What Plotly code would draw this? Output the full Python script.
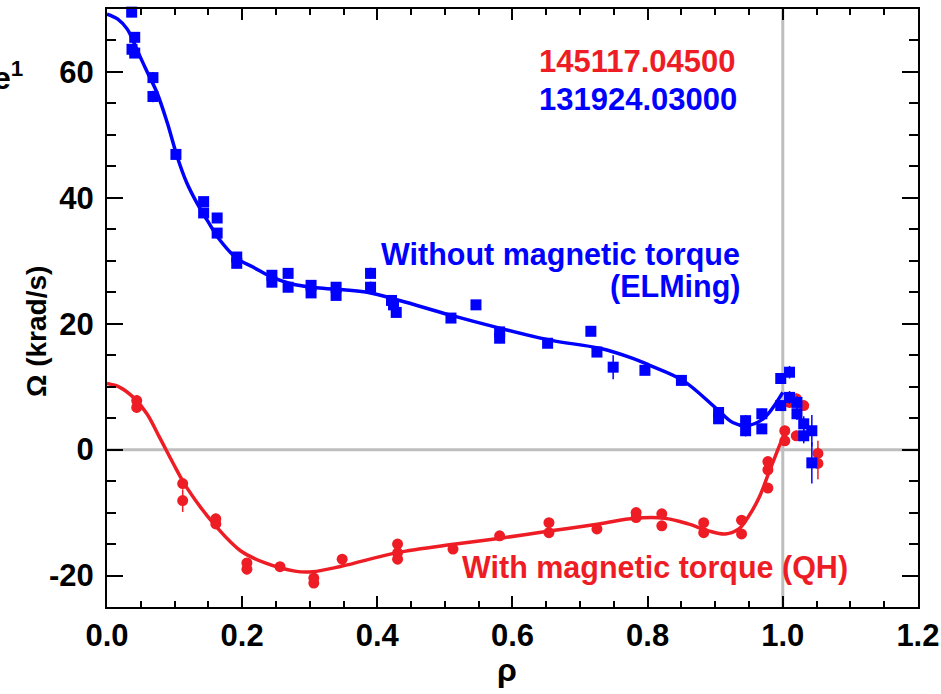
import plotly.graph_objects as go

# ---- data ----
blue_x = [0.0365, 0.041, 0.037, 0.041, 0.068, 0.068, 0.102, 0.143, 0.143, 0.163, 0.163,
          0.192, 0.192, 0.244, 0.244, 0.268, 0.268, 0.302, 0.302, 0.339, 0.339,
          0.39, 0.39, 0.421, 0.424, 0.428, 0.509, 0.546, 0.581, 0.581, 0.652,
          0.716, 0.725, 0.749, 0.796, 0.85, 0.905, 0.905, 0.945, 0.945, 0.969, 0.969,
          0.997, 0.997, 1.010, 1.010, 1.021, 1.021, 1.031, 1.031, 1.043, 1.043]
blue_y = [69.5, 65.5, 63.6, 63.0, 59.1, 56.1, 46.9, 39.4, 37.6, 36.8, 34.4,
          30.6, 29.6, 27.7, 26.6, 28.0, 25.8, 26.1, 24.9, 25.8, 24.5,
          28.0, 25.8, 23.7, 23.0, 21.8, 20.9, 23.0, 18.7, 17.7, 16.9,
          18.8, 15.5, 13.1, 12.6, 11.0, 5.9, 4.9, 4.6, 3.0, 5.7, 3.3,
          11.3, 7.0, 12.3, 8.3, 7.5, 5.7, 4.1, 2.2, 3.0, -2.1]
blue_err = [0.8, 0.8, 0.8, 0.8, 0.9, 0.9, 0.8, 0.7, 0.7, 0.8, 0.8,
            0.8, 0.8, 0.8, 0.8, 0.8, 0.8, 0.7, 0.7, 0.7, 0.7,
            0.9, 0.9, 0.8, 0.8, 0.8, 0.6, 0.6, 0.8, 0.8, 0.6,
            0.6, 0.7, 1.9, 0.7, 0.8, 0.8, 0.8, 0.9, 0.9, 0.8, 0.8,
            0.8, 0.8, 1.0, 1.0, 1.0, 1.0, 1.2, 1.2, 2.5, 3.3]

red_x = [0.044, 0.044, 0.112, 0.112, 0.161, 0.161, 0.207, 0.207, 0.256, 0.306, 0.306,
         0.348, 0.43, 0.43, 0.43, 0.512, 0.581, 0.654, 0.654, 0.725, 0.783, 0.783,
         0.821, 0.821, 0.883, 0.883, 0.939, 0.939, 0.978, 0.978, 0.978,
         1.003, 1.003, 1.010, 1.020, 1.020, 1.031, 1.052, 1.052]
red_y = [7.8, 6.7, -5.4, -8.1, -11.0, -11.8, -18.0, -19.0, -18.6, -20.4, -21.2,
         -17.4, -15.0, -16.4, -17.4, -15.8, -13.7, -11.6, -13.2, -12.6, -10.0, -10.8,
         -10.2, -12.1, -11.6, -13.2, -11.2, -13.4, -1.9, -3.2, -6.1,
         3.0, 1.4, 7.5, 8.1, 2.2, 7.0, -0.6, -2.2]
red_err = [0.8, 0.8, 0.8, 1.8, 0.8, 0.8, 0.8, 0.8, 0.6, 0.7, 0.7,
           0.6, 0.7, 0.7, 0.7, 0.6, 0.6, 0.6, 0.6, 0.6, 0.6, 0.6,
           0.6, 0.6, 0.6, 0.6, 0.6, 0.6, 0.6, 0.6, 0.6,
           0.8, 0.8, 0.8, 0.8, 0.8, 0.8, 2.0, 2.5]

blue_fit_x = [0, 0.016, 0.03, 0.044, 0.059, 0.074, 0.089, 0.104, 0.118, 0.133, 0.148, 0.167,
              0.192, 0.216, 0.244, 0.271, 0.31, 0.35, 0.385, 0.433, 0.507, 0.581, 0.655,
              0.729, 0.778, 0.803, 0.852, 0.902, 0.926, 0.946, 0.971, 1.0]
blue_fit_y = [69.2, 68.4, 66.8, 63.6, 60.1, 56.7, 52.0, 46.5, 42.4, 39.2, 36.5, 33.3,
              30.4, 29.0, 27.4, 26.4, 25.7, 25.4, 25.0, 23.7, 21.4, 19.3, 17.4,
              16.1, 14.5, 13.4, 11.0, 6.5, 4.3, 3.8, 4.9, 9.1]

red_fit_x = [0, 0.019, 0.039, 0.059, 0.078, 0.098, 0.119, 0.163, 0.198, 0.234, 0.278, 0.304,
             0.348, 0.428, 0.516, 0.587, 0.657, 0.728, 0.781, 0.825, 0.86, 0.89, 0.915,
             0.935, 0.95, 0.965, 0.98, 0.992, 1.003]
red_fit_y = [10.5, 9.9, 8.3, 5.7, 1.9, -2.2, -6.2, -12.4, -16.1, -18.0, -19.3, -19.4,
             -18.5, -16.4, -15.0, -14.0, -12.9, -11.8, -10.9, -10.9, -11.8, -12.9, -13.4,
             -12.6, -10.5, -7.6, -3.5, -0.2, 2.7]

x_ticks = [0.0, 0.2, 0.4, 0.6, 0.8, 1.0, 1.2]
y_ticks = [-20, 0, 20, 40, 60]

BLUE = "#0000ff"
RED = "#ee1d25"
FONT = "Liberation Sans, Arial, Helvetica, sans-serif"

fig = go.Figure()

fig.add_trace(go.Scatter(x=red_fit_x, y=red_fit_y, mode="lines",
                         line=dict(color=RED, width=3.5, shape="spline", smoothing=1.0),
                         hoverinfo="skip", showlegend=False))
fig.add_trace(go.Scatter(x=blue_fit_x, y=blue_fit_y, mode="lines",
                         line=dict(color=BLUE, width=3.5, shape="spline", smoothing=1.0),
                         hoverinfo="skip", showlegend=False))
fig.add_trace(go.Scatter(x=red_x, y=red_y, mode="markers",
                         marker=dict(symbol="circle", size=11, color=RED),
                         error_y=dict(type="data", array=red_err, color=RED, thickness=1.5, width=0),
                         cliponaxis=False, showlegend=False))
fig.add_trace(go.Scatter(x=blue_x, y=blue_y, mode="markers",
                         marker=dict(symbol="square", size=11, color=BLUE,
                                     line=dict(color=BLUE, width=0)),
                         error_y=dict(type="data", array=blue_err, color=BLUE, thickness=1.5, width=0),
                         cliponaxis=False, showlegend=False))

fig.add_shape(type="line", xref="paper", yref="y", x0=0, x1=1, y0=0, y1=0,
              line=dict(color="#bebebe", width=3), layer="below")
fig.add_shape(type="line", xref="x", yref="paper", x0=1.0, x1=1.0, y0=0, y1=1,
              line=dict(color="#bebebe", width=3), layer="below")

def ann(text, x, y, color, size, xanchor, xref="x", yref="y", angle=0):
    fig.add_annotation(text=text, x=x, y=y, xref=xref, yref=yref, showarrow=False,
                       xanchor=xanchor, yanchor="middle", textangle=angle,
                       font=dict(family=FONT, size=size, color=color, weight="bold"))

ann("Without magnetic torque", 0.939, 31.0, BLUE, 30.5, "right")
ann("(ELMing)", 0.939, 25.9, BLUE, 30.5, "right")
ann("With magnetic torque (QH)", 1.099, -18.8, RED, 30.5, "right")
ann("145117.04500", 0.636, 61.7, RED, 31, "left")
ann("131924.03000", 0.636, 55.6, BLUE, 31, "left")

W, H = 941, 694
L, R, T, B = 107, 23, 9, 87
pw, ph = W - L - R, H - T - B
ann("Ω (krad/s)", (36 - L) / pw, (607 - 332) / ph, "black", 28, "center",
    xref="paper", yref="paper", angle=-90)
ann("ρ", (507 - L) / pw, (607 - 670) / ph, "black", 32, "center", xref="paper", yref="paper")
ann("e<sup>1</sup>", (25 - L) / pw, (607 - 76) / ph, "black", 32, "right", xref="paper", yref="paper")

axis_common = dict(showgrid=False, zeroline=False, showline=True, linecolor="black",
                   linewidth=2, mirror="ticks", ticks="inside", tickcolor="black",
                   tickwidth=2, automargin=False,
                   tickfont=dict(family=FONT, size=31, color="black", weight="bold"))

fig.update_xaxes(range=[0, 1.2001], tickvals=x_ticks, ticktext=[f"{v:.1f}" for v in x_ticks],
                 ticklen=11, ticklabelstandoff=0,
                 minor=dict(dtick=0.05, tick0=0, ticks="inside", ticklen=6, tickwidth=2,
                            tickcolor="black", showgrid=False),
                 **axis_common)
fig.update_yaxes(range=[-25, 70], tickvals=y_ticks, ticktext=[str(v) for v in y_ticks],
                 ticklen=16, ticklabelstandoff=5,
                 minor=dict(dtick=5, tick0=0, ticks="inside", ticklen=9, tickwidth=2,
                            tickcolor="black", showgrid=False),
                 **axis_common)

fig.update_layout(width=W, height=H, margin=dict(l=L, r=R, t=T, b=B, autoexpand=False),
                  paper_bgcolor="white", plot_bgcolor="white", showlegend=False)

fig.write_html("out.html")
